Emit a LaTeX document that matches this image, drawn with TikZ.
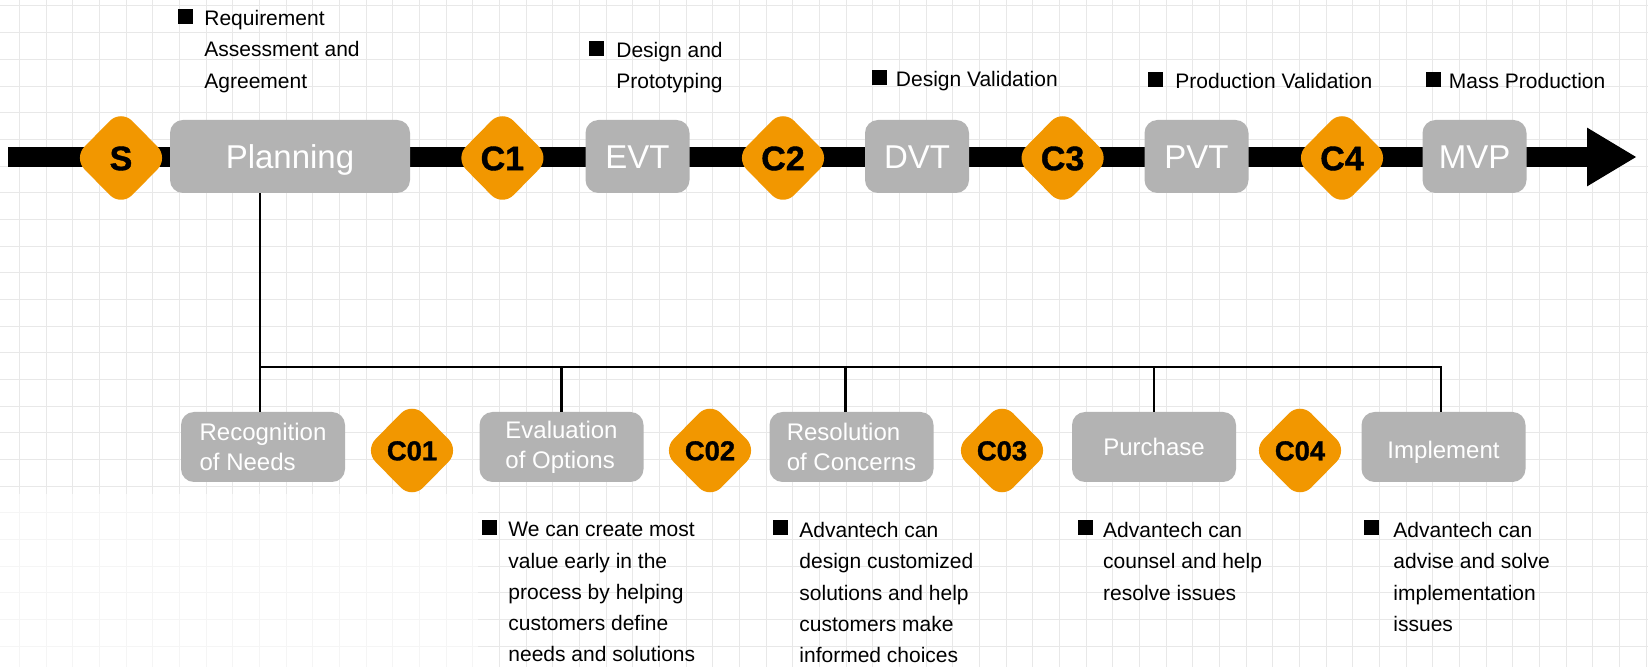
\documentclass[tikz,border=0pt]{standalone}
\usepackage{fontspec}
\setmainfont{Liberation Sans}
\newfontfamily\heavyfont[BoldFeatures={FakeBold=1.2}]{Liberation Sans}
\usetikzlibrary{shapes.geometric}
\definecolor{boxgray}{RGB}{179,179,179}
\definecolor{mkorange}{RGB}{242,151,0}
\definecolor{gridc}{RGB}{232,232,232}
\tikzset{
  phase/.style={fill=boxgray, rounded corners=6.5pt, text=white, inner sep=0pt,
    font=\fontsize{16.5}{19}\selectfont, text height=11.8pt, text depth=0pt, minimum height=36.5pt},
  stage/.style={fill=boxgray, rounded corners=6.5pt, text=white, inner sep=0pt, align=left,
    font=\fontsize{12}{15}\selectfont, minimum width=82pt, minimum height=35pt},
  gate/.style={diamond, fill=mkorange, rounded corners=8pt, inner sep=0pt,
    minimum width=47.8pt, minimum height=48.6pt, text height=12.2pt, text depth=0pt,
    font=\heavyfont\bfseries\fontsize{17}{20}\selectfont},
  subgate/.style={gate, text height=9.8pt, font=\heavyfont\bfseries\fontsize{13.7}{17}\selectfont},
  bulletsq/.style={fill=black, inner sep=0pt, minimum size=7.5pt, anchor=north west},
  note/.style={anchor=north west, inner sep=0pt, align=left, font=\fontsize{10.5}{15.6}\selectfont},
  link/.style={line width=1.2pt},
  gridline/.style={gridc, line width=0.5pt},
}
\begin{document}
\begin{tikzpicture}[x=0.5pt, y=-0.5pt]
\useasboundingbox (0,0) rectangle (1648,667);
\fill[white] (0,0) rectangle (1648,667);
% background grid
\foreach \i in {0,...,61} \draw[gridline] ({19.4+\i*26.67},0) -- ({19.4+\i*26.67},667);
\foreach \j in {0,...,24} \draw[gridline] (0,{6+\j*26.67}) -- (1648,{6+\j*26.67});
\fill[white, opacity=0.6] (0,494) rectangle (478,667);

% timeline
\coordinate (t0) at (8,157);
\coordinate (t1) at (1587,157);
\coordinate (tip) at (1636,157);
\draw[line width=10pt] (t0) -- (t1);
\fill (tip) -- ([yshift=14.7pt]t1) -- ([yshift=-14.7pt]t1) -- cycle;

% phases
\node[phase, minimum width=120pt] (plan) at (290,156.5) {Planning};
\node[phase, minimum width=52pt] (evt) at (637.5,156.5) {EVT};
\node[phase, minimum width=52pt] (dvt) at (917,156.5) {DVT};
\node[phase, minimum width=52pt] (pvt) at (1196.5,156.5) {PVT};
\node[phase, minimum width=52pt] (mvp) at (1474.5,156.5) {MVP};

% gates
\node[gate] (gs) at (121,158) {S};
\node[gate] (g1) at (502.4,158) {C1};
\node[gate] (g2) at (783,158) {C2};
\node[gate] (g3) at (1062.6,158) {C3};
\node[gate] (g4) at (1342,158) {C4};

% top notes
\node[bulletsq] (b1) at (178,8.5) {};
\node[note] (n1) at (204,10) {Requirement\\Assessment and\\Agreement};
\node[bulletsq] (b2) at (588.6,40.5) {};
\node[note] (n2) at (616,41.5) {Design and\\Prototyping};
\node[bulletsq] (b3) at (872,70) {};
\node[note] (n3) at (895.5,70.5) {Design Validation};
\node[bulletsq] (b4) at (1147.5,72) {};
\node[note] (n4) at (1175,72.5) {Production Validation};
\node[bulletsq] (b5) at (1426,72) {};
\node[note] (n5) at (1448.5,72.5) {Mass Production};

% stages
\node[stage] (recog) at (263,447) {Recognition\\of Needs};
\node[stage] (eval) at (561.5,447) {Evaluation\\of Options};
\node[stage] (res) at (851.5,447) {Resolution\\of Concerns};
\node[stage] (pur) at (1154,447) {Purchase};
\node[stage, text height=14.6pt, text depth=3pt] (impl) at (1443.5,447) {Implement};

\node[subgate] (c01) at (412,450.5) {C01};
\node[subgate] (c02) at (710,450.5) {C02};
\node[subgate] (c03) at (1002,450.5) {C03};
\node[subgate] (c04) at (1300,450.5) {C04};

% connectors
\coordinate (busL) at (260,367);
\coordinate (busR) at (1441,367);
\draw[link] (busL |- plan.south) -- (busL |- recog.north);
\draw[link] (busL) -- (busR) -- (busR |- impl.north);
\draw[link] (eval.north) -- (eval.north |- busL);
\draw[link] ([xshift=-3pt]res.north) -- ([xshift=-3pt]res.north |- busL);
\draw[link] (pur.north) -- (pur.north |- busL);

% bottom notes
\node[bulletsq] (b6) at (482,519.5) {};
\node[note] (n6) at (508,522) {We can create most\\value early in the\\process by helping\\customers define\\needs and solutions};
\node[bulletsq] (b7) at (773,520) {};
\node[note] (n7) at (799,522) {Advantech can\\design customized\\solutions and help\\customers make\\informed choices};
\node[bulletsq] (b8) at (1078,520) {};
\node[note] (n8) at (1102.8,522) {Advantech can\\counsel and help\\resolve issues};
\node[bulletsq] (b9) at (1364,519.5) {};
\node[note] (n9) at (1393,522) {Advantech can\\advise and solve\\implementation\\issues};
\end{tikzpicture}
\end{document}
